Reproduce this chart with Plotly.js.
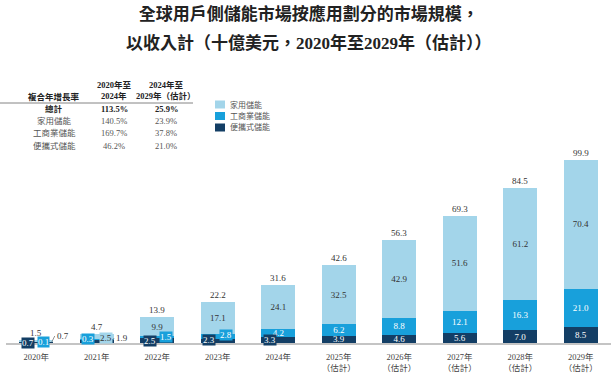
<!DOCTYPE html>
<html>
<head>
<meta charset="utf-8">
<script src="https://cdn.plot.ly/plotly-3.0.1.min.js"></script>
<style>html,body{margin:0;padding:0;background:#fff;}#chart{width:614px;height:375px;}</style>
</head>
<body>
<div id="chart"></div>
<script>
// ---- data ----
const years = ['2020年','2021年','2022年','2023年','2024年','2025年','2026年','2027年','2028年','2029年'];
const tickLabels = ['2020年','2021年','2022年','2023年','2024年',
  '2025年<br>（估計）','2026年<br>（估計）','2027年<br>（估計）','2028年<br>（估計）','2029年<br>（估計）'];
const portable    = [0.7, 1.9, 2.5, 2.3, 3.3, 3.9, 4.6, 5.6, 7.0, 8.5];
const commercial  = [0.1, 0.3, 1.5, 2.8, 4.2, 6.2, 8.8, 12.1, 16.3, 21.0];
const residential = [0.7, 2.5, 9.9, 17.1, 24.1, 32.5, 42.9, 51.6, 61.2, 70.4];
const totals      = [1.5, 4.7, 13.9, 22.2, 31.6, 42.6, 56.3, 69.3, 84.5, 99.9];
const seriesNames = ['便攜式儲能','工商業儲能','家用儲能'];
const legendNames = ['家用儲能','工商業儲能','便攜式儲能'];
const tableTitle = '複合年增長率';
const tableCols = [['2020年至','2024年'],['2024年至','2029年（估計）']];
const tableRows = ['總計','家用儲能','工商業儲能','便攜式儲能'];
const cagr1 = ['113.5%','140.5%','169.7%','46.2%'];
const cagr2 = ['25.9%','23.9%','37.8%','21.0%'];
const titleLine1 = '全球用戶側儲能市場按應用劃分的市場規模，';
const titleLine2 = '以收入計（十億美元，2020年至2029年（估計））';

// ---- style ----
const C_LIGHT = '#A3D5EA', C_MID = '#18A0DB', C_DARK = '#133E65';
const FONT = 'Liberation Serif, "Noto Sans CJK TC", serif';
const W = 614, H = 375, M = {l:6, r:3, t:141, b:32};
const PW = W - M.l - M.r, PH = H - M.t - M.b;
const px = x => (x - M.l) / PW;
const py = y => (H - M.b - y) / PH;

const data = {portable, commercial, residential};
const colors = {portable: C_DARK, commercial: C_MID, residential: C_LIGHT};
const keys = ['portable','commercial','residential'];

// labels drawn as offset boxes (small early bars)
const special = [
  {k:'portable', i:0, dx:-8.25, dy:0.5, box:true},
  {k:'commercial', i:0, dx:7.25, dy:1, box:true},
  {k:'residential', i:0, dx:15.5, dy:1, leader:[3,-6]},
  {k:'commercial', i:1, dx:-8.75, dy:4, box:true},
  {k:'residential', i:1, dx:9.25, dy:5, box:true},
  {k:'portable', i:1, dx:15.5, dy:3, leader:[2,-2]},
  {k:'portable', i:2, dx:-7.75, dy:2.3, box:true},
  {k:'commercial', i:2, dx:8.75, dy:6.3, box:true},
  {k:'portable', i:3, dx:-8.75, dy:2.7, box:true},
  {k:'commercial', i:3, dx:8.25, dy:7.7, box:true},
  {k:'portable', i:4, dx:-8.5, dy:3.5, box:true}
];
const isSpecial = (k,i) => special.some(s => s.k === k && s.i === i);

const traces = keys.map((k, n) => ({
  type:'bar', name: seriesNames[n], x: years, y: data[k],
  marker:{color: colors[k], line:{width:0}},
  text: data[k].map((v,i) => isSpecial(k,i) ? '' : v.toFixed(1)),
  textposition:'inside', insidetextanchor:'middle', textangle:0,
  constraintext:'none',
  textfont:{family:FONT, size:9, color: k === 'residential' ? '#333' : '#fff'},
  hoverinfo:'skip', showlegend:false
}));

const annotations = [];
// totals
totals.forEach((t,i) => annotations.push({
  x: years[i], y: t, xref:'x', yref:'y', text: t.toFixed(1), showarrow:false,
  xanchor:'center', yanchor:'bottom', yshift:0, font:{family:FONT, size:9, color:'#333'}
}));
// special labels
special.forEach(s => {
  const v = data[s.k][s.i];
  const a = {x: years[s.i], y: 0, xref:'x', yref:'y', text: v.toFixed(1),
    xshift: s.dx, yshift: s.dy,
    font:{family:FONT, size:9, color: s.k === 'residential' || s.leader ? '#333' : '#fff'}};
  if (s.box) {
    a.showarrow = false; a.bgcolor = colors[s.k]; a.borderpad = 0;
    a.xanchor = 'center'; a.yanchor = 'middle';
  } else {
    a.showarrow = true; a.arrowhead = 0; a.arrowwidth = 0.8; a.arrowcolor = '#777';
    a.ax = s.leader[0]; a.ay = s.leader[1]; a.xanchor = 'left'; a.yanchor = 'middle'; a.standoff = 0;
  }
  annotations.push(a);
});
// helper for paper-positioned text
const ptext = (x, y, text, font, xanchor) => ({xref:'paper', yref:'paper', x:px(x), y:py(y), text,
  showarrow:false, xanchor: xanchor || 'center', yanchor:'middle', font});
// title line 2
annotations.push(ptext(309, 43, titleLine2, {family:FONT, size:17, color:'#222', weight:'bold'}));
// table
const tf = {family:FONT, size:8.5, color:'#555'};
const tfb = {family:FONT, size:8.5, color:'#222', weight:'bold'};
const colX = [54, 114, 166];
annotations.push(ptext(colX[0], 97, tableTitle, tfb));
tableCols.forEach((c,j) => {
  annotations.push(ptext(colX[j+1], 85, c[0], tfb));
  annotations.push(ptext(colX[j+1], 96, c[1], tfb));
});
const rowY = [109, 121, 133, 146];
tableRows.forEach((r,j) => {
  const f = j === 0 ? tfb : tf;
  annotations.push(ptext(colX[0], rowY[j], r, f));
  annotations.push(ptext(colX[1], rowY[j], cagr1[j], f));
  annotations.push(ptext(colX[2], rowY[j], cagr2[j], f));
});
// manual legend
const legColors = [C_LIGHT, C_MID, C_DARK];
const legY = [104.5, 116, 127.5];
const shapes = [{type:'line', xref:'paper', yref:'paper', x0:px(0), x1:px(193), y0:py(103), y1:py(103),
  line:{color:'#666', width:0.8}}];
legendNames.forEach((n,j) => {
  shapes.push({type:'rect', xref:'paper', yref:'paper', x0:px(215), x1:px(225), y0:py(legY[j]-4), y1:py(legY[j]+4),
    fillcolor: legColors[j], line:{width:0}});
  annotations.push(ptext(228, legY[j], n, {family:FONT, size:8, color:'#555'}, 'left'));
});

const layout = {
  width:W, height:H, margin:M, paper_bgcolor:'#fff', plot_bgcolor:'#fff',
  barmode:'stack', bargap:0.438, showlegend:false,
  title:{text:titleLine1, x:0.503, xanchor:'center', y:1-14/H, yanchor:'middle', xref:'container', yref:'container',
    font:{family:FONT, size:17, color:'#222', weight:'bold'}},
  xaxis:{type:'category', tickvals: years, ticktext: tickLabels, showline:true, linecolor:'#c4c4c4', linewidth:2,
    ticks:'', ticklabelstandoff:5, showgrid:false, tickfont:{family:FONT, size:8.5, color:'#444'}, fixedrange:true},
  yaxis:{range:[0,110], visible:false, showgrid:false, zeroline:false, fixedrange:true},
  annotations, shapes, font:{family:FONT}
};
Plotly.newPlot('chart', traces, layout, {displayModeBar:false, staticPlot:true});
</script>
</body>
</html>
